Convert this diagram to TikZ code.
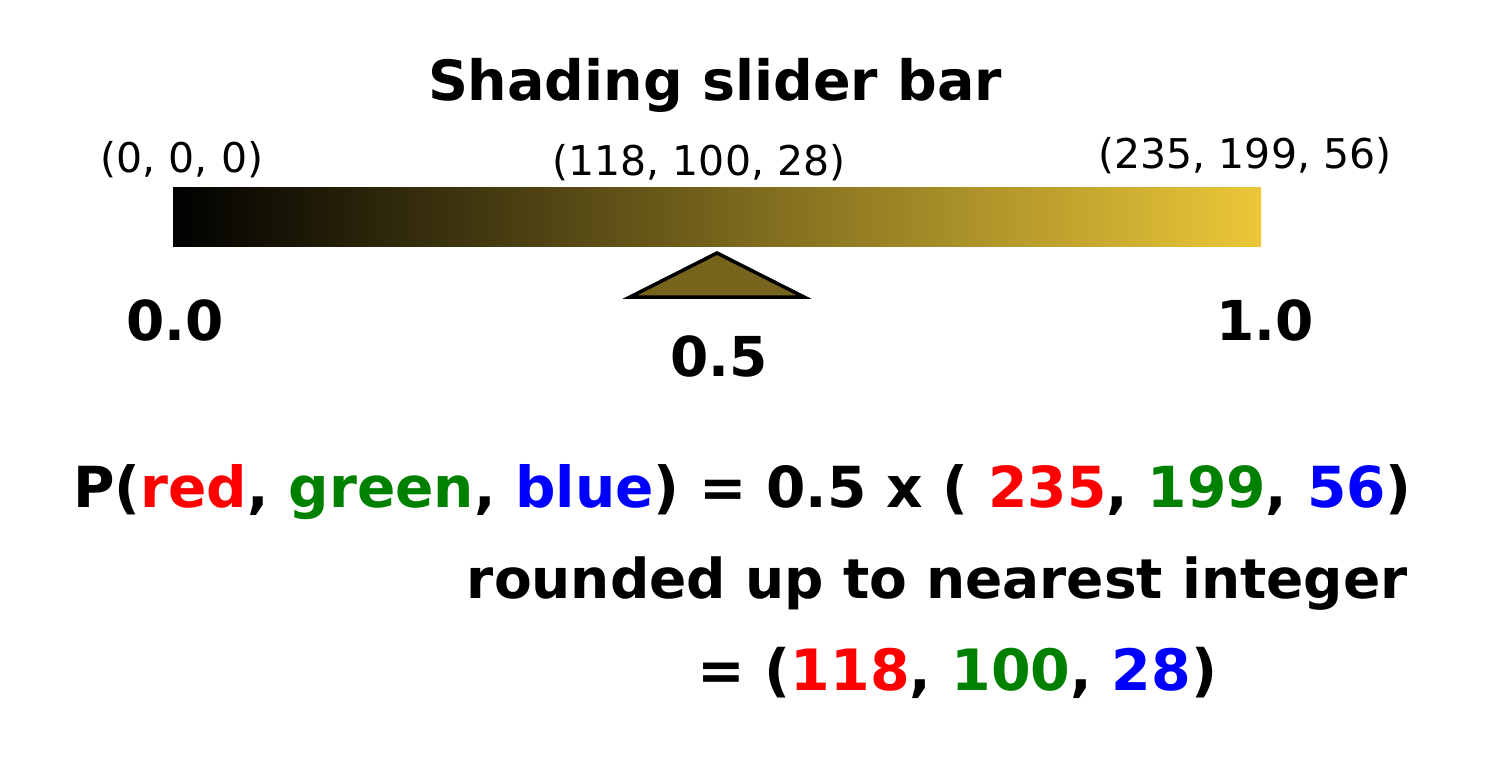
\documentclass[tikz,border=0pt]{standalone}
\usepackage{fontspec}
\setmainfont{DejaVu Sans}
\definecolor{sliderend}{RGB}{235,199,56}
\definecolor{knob}{RGB}{118,100,28}
\definecolor{cred}{RGB}{255,0,0}
\definecolor{cgreen}{RGB}{0,128,0}
\definecolor{cblue}{RGB}{0,0,255}
\begin{document}
\begin{tikzpicture}[x=1pt,y=-1pt,
  lbl/.style={inner sep=0pt, anchor=base west},
  title/.style={inner sep=0pt, anchor=base, font=\fontsize{55.5}{66}\selectfont\bfseries},
  rgbtxt/.style={inner sep=0pt, anchor=base, font=\fontsize{41}{48}\selectfont},
  tick/.style={lbl, font=\fontsize{55}{66}\selectfont\bfseries},
  eq/.style={lbl, font=\fontsize{56.6}{68}\selectfont\bfseries}]
\useasboundingbox (0,0) rectangle (1490,773);
\node[title] (title) at (715,101) {Shading slider bar};
\node[rgbtxt] (c0) at (182,172) {(0, 0, 0)};
\node[rgbtxt] (c5) at (699,175) {(118, 100, 28)};
\node[rgbtxt] (c1) at (1245,168) {(235, 199, 56)};
\shade[left color=black, right color=sliderend] (173,187) rectangle (1261,246);
\draw[line width=3.5pt, fill=knob, line join=miter] (717,253) -- (804,297) -- (630,297) -- cycle;
\node[tick] (t0) at (126,340) {0.0};
\node[tick] (t1) at (1216,340) {1.0};
\node[tick] (t5) at (670,376) {0.5};
\node[eq] (e1) at (73,507) {P(\textcolor{cred}{red}, \textcolor{cgreen}{green}, \textcolor{cblue}{blue}) = 0.5 x ( \textcolor{cred}{235}, \textcolor{cgreen}{199}, \textcolor{cblue}{56})};
\node[eq, anchor=base east, font=\fontsize{55}{66}\selectfont\bfseries] (e2) at (1408,598) {rounded up to nearest integer};
\node[eq, font=\fontsize{57}{68}\selectfont\bfseries] (e3) at (697,690) {= (\textcolor{cred}{118}, \textcolor{cgreen}{100}, \textcolor{cblue}{28})};
\end{tikzpicture}
\end{document}
